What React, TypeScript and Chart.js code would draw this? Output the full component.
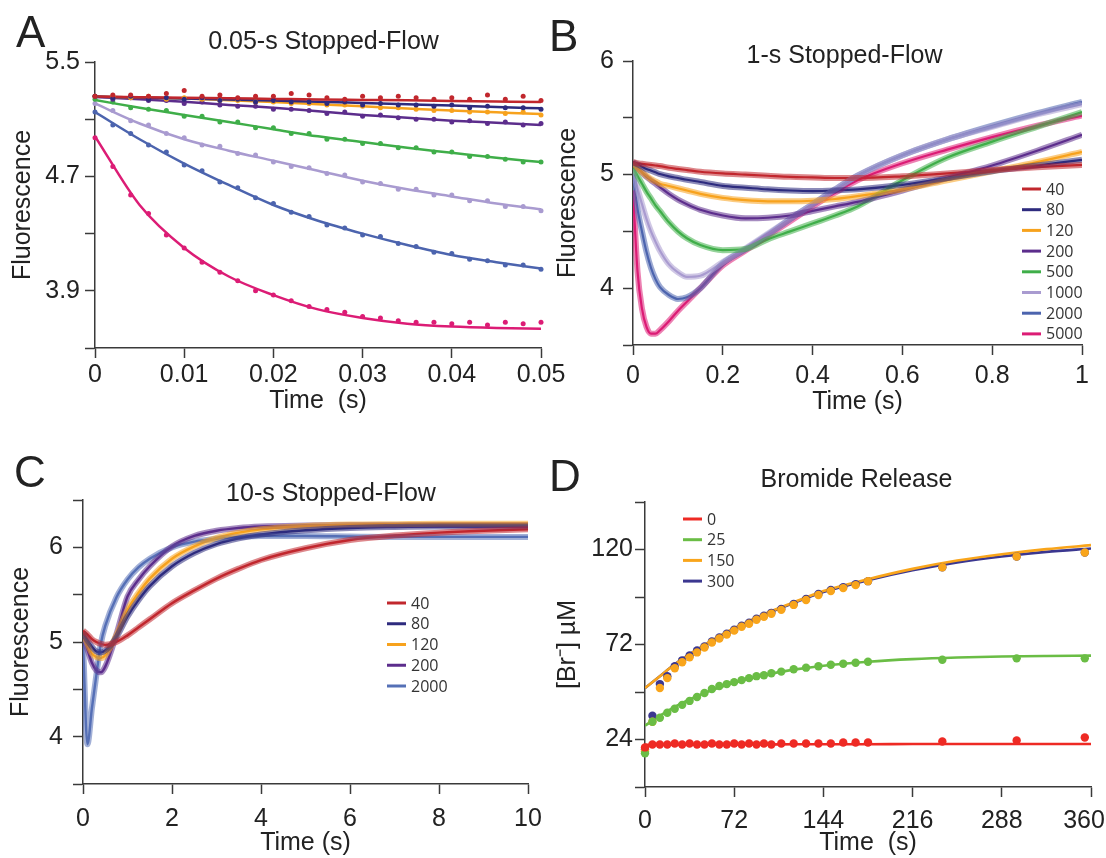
import React, { useEffect, useRef } from "react";
import { Chart, registerables } from "chart.js";

Chart.register(...registerables);

const FONT = "'Liberation Sans', Arial, Helvetica, sans-serif";
const LEGEND_FONT = "'Open Sans', 'Noto Sans', sans-serif";
const INK = "#222222";
const AXIS = "#3a3a3a";

// ---------- series labels & colours ----------
const SERIES_AB = ["40", "80", "120", "200", "500", "1000", "2000", "5000"];
const COLORS_AB = ["#c1272d", "#2e2b7e", "#f7a21d", "#5c2d8c", "#3fae49", "#a99bd0", "#4c64ae", "#dc1c75"];
const SERIES_C = ["40", "80", "120", "200", "2000"];
const COLORS_C = ["#c1272d", "#2e2b7e", "#f7a21d", "#5c2d8c", "#5570b6"];
const SERIES_D = ["0", "25", "150", "300"];
const COLORS_D = ["#ee2a24", "#6abd45", "#f9a51b", "#3b3790"];

// ---------- Panel A: 0.05-s stopped-flow ----------
const A_X_TICKS = [0, 0.01, 0.02, 0.03, 0.04, 0.05];
const A_X_LABELS = ["0", "0.01", "0.02", "0.03", "0.04", "0.05"];
const A_Y_TICKS = [3.5, 3.9, 4.3, 4.7, 5.1, 5.5];
const A_Y_LABELS = ["", "3.9", "", "4.7", "", "5.5"];
const A_FIT_T = [0, 0.005, 0.01, 0.015, 0.02, 0.025, 0.03, 0.035, 0.04, 0.045, 0.05];
const A_FIT_40 = [5.258, 5.254, 5.25, 5.246, 5.242, 5.238, 5.235, 5.232, 5.228, 5.224, 5.22];
const A_FIT_80 = [5.258, 5.251, 5.245, 5.238, 5.23, 5.222, 5.213, 5.204, 5.195, 5.185, 5.176];
const A_FIT_120 = [5.258, 5.252, 5.245, 5.233, 5.22, 5.205, 5.19, 5.175, 5.16, 5.148, 5.136];
const A_FIT_200 = [5.255, 5.24, 5.222, 5.2, 5.18, 5.155, 5.13, 5.11, 5.09, 5.075, 5.06];
const A_FIT_500 = [5.234, 5.18, 5.13, 5.08, 5.03, 4.98, 4.94, 4.9, 4.865, 4.83, 4.8];
const A_FIT_1000 = [5.21, 5.07, 4.96, 4.88, 4.81, 4.74, 4.67, 4.61, 4.56, 4.51, 4.47];
const A_FIT_2000 = [5.15, 4.96, 4.79, 4.64, 4.5, 4.39, 4.3, 4.22, 4.15, 4.1, 4.055];
const A_FIT_5000 = [4.98, 4.5, 4.2, 4.0, 3.87, 3.77, 3.71, 3.67, 3.65, 3.64, 3.635];
const A_DOT_T = [0, 0.002, 0.004, 0.006, 0.008, 0.01, 0.012, 0.014, 0.016, 0.018, 0.02, 0.022, 0.024,
  0.026, 0.028, 0.03, 0.032, 0.034, 0.036, 0.038, 0.04, 0.042, 0.044, 0.046, 0.048, 0.05];
const A_DOT_40 = [5.26, 5.27, 5.27, 5.26, 5.28, 5.3, 5.26, 5.27, 5.25, 5.26, 5.26, 5.28, 5.27, 5.25, 5.24, 5.26, 5.25, 5.26, 5.25, 5.24, 5.25, 5.24, 5.27, 5.24, 5.26, 5.23];
const A_DOT_80 = [5.26, 5.25, 5.26, 5.24, 5.25, 5.24, 5.25, 5.23, 5.24, 5.22, 5.23, 5.22, 5.22, 5.21, 5.22, 5.2, 5.21, 5.2, 5.2, 5.19, 5.2, 5.18, 5.19, 5.18, 5.18, 5.17];
const A_DOT_120 = [5.26, 5.26, 5.25, 5.26, 5.24, 5.25, 5.24, 5.23, 5.23, 5.22, 5.22, 5.21, 5.21, 5.2, 5.2, 5.19, 5.18, 5.18, 5.17, 5.16, 5.16, 5.15, 5.15, 5.14, 5.15, 5.13];
const A_DOT_200 = [5.26, 5.24, 5.25, 5.23, 5.23, 5.21, 5.22, 5.2, 5.19, 5.19, 5.17, 5.17, 5.16, 5.14, 5.15, 5.12, 5.13, 5.11, 5.1, 5.1, 5.08, 5.09, 5.07, 5.08, 5.06, 5.07];
const A_DOT_500 = [5.24, 5.22, 5.18, 5.17, 5.16, 5.12, 5.12, 5.08, 5.08, 5.04, 5.04, 5.0, 5.0, 4.96, 4.96, 4.93, 4.93, 4.9, 4.9, 4.87, 4.87, 4.84, 4.84, 4.82, 4.8, 4.8];
const A_DOT_1000 = [5.21, 5.16, 5.09, 5.06, 5.0, 4.97, 4.92, 4.91, 4.86, 4.85, 4.8, 4.77, 4.76, 4.72, 4.71, 4.66, 4.65, 4.61, 4.61, 4.57, 4.57, 4.53, 4.53, 4.49, 4.49, 4.46];
const A_DOT_2000 = [5.15, 5.06, 5.0, 4.92, 4.87, 4.78, 4.74, 4.66, 4.62, 4.55, 4.51, 4.45, 4.42, 4.36, 4.34, 4.29, 4.28, 4.23, 4.21, 4.17, 4.16, 4.12, 4.11, 4.08, 4.08, 4.05];
const A_DOT_5000 = [4.97, 4.77, 4.57, 4.44, 4.29, 4.2, 4.1, 4.03, 3.97, 3.9, 3.87, 3.83, 3.79, 3.77, 3.75, 3.72, 3.71, 3.69, 3.68, 3.68, 3.67, 3.68, 3.66, 3.68, 3.67, 3.68];

// ---------- Panel B: 1-s stopped-flow ----------
const B_X_TICKS = [0, 0.2, 0.4, 0.6, 0.8, 1];
const B_X_LABELS = ["0", "0.2", "0.4", "0.6", "0.8", "1"];
const B_Y_TICKS = [3.5, 4, 4.5, 5, 5.5, 6];
const B_Y_LABELS = ["", "4", "", "5", "", "6"];
const B_T = [0, 0.01, 0.02, 0.03, 0.04, 0.05, 0.06, 0.08, 0.1, 0.12, 0.15, 0.2, 0.25, 0.3, 0.35, 0.4, 0.45, 0.5, 0.6, 0.7, 0.8, 0.9, 1.0];
const B_40 = [5.11, 5.1, 5.095, 5.09, 5.085, 5.08, 5.075, 5.06, 5.05, 5.04, 5.025, 5.01, 5.0, 4.99, 4.98, 4.975, 4.97, 4.97, 4.985, 5.01, 5.04, 5.065, 5.085];
const B_80 = [5.11, 5.09, 5.07, 5.05, 5.035, 5.02, 5.005, 4.985, 4.97, 4.955, 4.935, 4.9, 4.885, 4.87, 4.86, 4.855, 4.86, 4.87, 4.91, 4.97, 5.03, 5.08, 5.13];
const B_120 = [5.1, 5.06, 5.02, 4.99, 4.96, 4.94, 4.92, 4.9, 4.88, 4.86, 4.83, 4.795, 4.775, 4.765, 4.765, 4.77, 4.785, 4.81, 4.87, 4.95, 5.03, 5.11, 5.2];
const B_200 = [5.1, 5.06, 5.02, 4.98, 4.95, 4.92, 4.89, 4.83, 4.78, 4.74, 4.69, 4.64, 4.615, 4.62, 4.64, 4.68, 4.72, 4.76, 4.86, 4.97, 5.08, 5.21, 5.35];
const B_500 = [5.07, 4.99, 4.92, 4.85, 4.79, 4.73, 4.68, 4.58, 4.5, 4.44, 4.38, 4.335, 4.345, 4.43, 4.5, 4.57, 4.64, 4.72, 4.95, 5.15, 5.29, 5.42, 5.55];
const B_1000 = [5.05, 4.88, 4.74, 4.61, 4.5, 4.41, 4.33, 4.21, 4.14, 4.1, 4.11, 4.23, 4.35, 4.48, 4.61, 4.74, 4.87, 4.99, 5.17, 5.31, 5.42, 5.53, 5.62];
const B_2000 = [5.0, 4.7, 4.5, 4.32, 4.18, 4.08, 4.01, 3.94, 3.905, 3.92, 4.0, 4.22, 4.34, 4.47, 4.61, 4.74, 4.87, 4.99, 5.17, 5.31, 5.43, 5.54, 5.64];
const B_5000 = [4.86, 4.15, 3.82, 3.66, 3.6, 3.6, 3.63, 3.71, 3.8, 3.88, 4.0, 4.2, 4.33, 4.46, 4.59, 4.72, 4.84, 4.95, 5.1, 5.22, 5.33, 5.43, 5.52];

// ---------- Panel C: 10-s stopped-flow ----------
const C_X_TICKS = [0, 2, 4, 6, 8, 10];
const C_X_LABELS = ["0", "2", "4", "6", "8", "10"];
const C_Y_TICKS = [3.5, 4, 4.5, 5, 5.5, 6, 6.5];
const C_Y_LABELS = ["", "4", "", "5", "", "6", ""];
const C_T = [0, 0.1, 0.2, 0.3, 0.4, 0.5, 0.75, 1, 1.25, 1.5, 2, 2.5, 3, 3.5, 4, 5, 6, 7, 8, 9, 10];
const C_40 = [5.12, 5.08, 5.03, 5.0, 4.98, 4.97, 5.0, 5.07, 5.155, 5.24, 5.41, 5.545, 5.67, 5.775, 5.866, 5.99, 6.077, 6.125, 6.155, 6.175, 6.19];
const C_80 = [5.1, 5.02, 4.95, 4.9, 4.89, 4.91, 5.05, 5.27, 5.445, 5.59, 5.8, 5.94, 6.035, 6.095, 6.135, 6.18, 6.205, 6.215, 6.22, 6.22, 6.22];
const C_120 = [5.1, 4.98, 4.88, 4.84, 4.83, 4.86, 5.07, 5.34, 5.52, 5.67, 5.88, 6.01, 6.1, 6.155, 6.19, 6.225, 6.24, 6.245, 6.25, 6.25, 6.25];
const C_200 = [5.08, 4.92, 4.78, 4.7, 4.68, 4.74, 5.08, 5.48, 5.66, 5.8, 6.01, 6.12, 6.175, 6.205, 6.22, 6.23, 6.235, 6.235, 6.235, 6.235, 6.235];
const C_2000 = [5.0, 3.92, 4.3, 4.65, 4.98, 5.17, 5.47, 5.66, 5.79, 5.88, 6.0, 6.06, 6.09, 6.11, 6.12, 6.12, 6.115, 6.11, 6.11, 6.11, 6.11];

// ---------- Panel D: bromide release ----------
const D_X_TICKS = [0, 72, 144, 216, 288, 360];
const D_X_LABELS = ["0", "72", "144", "216", "288", "360  "];
const D_Y_TICKS = [0, 24, 48, 72, 96, 120, 144];
const D_Y_LABELS = ["", "24", "", "72", "", "120", ""];
const D_FIT_T = [0, 12, 24, 36, 48, 60, 72, 96, 120, 144, 180, 216, 252, 288, 324, 360];
const D_FIT_0 = [21.3, 21.3, 21.4, 21.4, 21.4, 21.5, 21.5, 21.5, 21.6, 21.6, 21.6, 21.7, 21.7, 21.7, 21.7, 21.7];
const D_FIT_25 = [31, 36, 40.5, 44.2, 47.5, 50.3, 52.7, 56.5, 59.3, 61.3, 63.3, 64.6, 65.4, 65.9, 66.2, 66.4];
const D_FIT_150 = [50, 56, 62, 67, 71.8, 76.2, 80.2, 87.3, 93.3, 99, 105, 110.2, 114.4, 117.6, 120.2, 122.2];
const D_FIT_300 = [50, 56, 62, 67, 71.5, 76, 80, 87, 93, 98.5, 104.5, 109.5, 113.5, 116.5, 118.8, 120.5];
const D_DOT_T = [0, 6, 12, 18, 24, 30, 36, 42, 48, 54, 60, 66, 72, 78, 84, 90, 96, 102, 110, 120, 130, 140, 150, 160, 170, 180, 240, 300, 355];
const D_DOT_0 = [20, 21.5, 21.5, 21.5, 22, 21.5, 22, 21.5, 21.5, 22, 21.5, 21.5, 22, 21.5, 22, 21.5, 22, 21.5, 22, 22, 22, 22, 22, 22.5, 22.5, 22.5, 23, 23.5, 25];
const D_DOT_25 = [17, 33, 35, 37.5, 39.5, 41.5, 43.5, 45.5, 47.5, 49.5, 51, 52, 53, 54, 55, 56, 56.5, 57.5, 58.3, 59.5, 60.3, 61, 61.8, 62.3, 62.8, 63.3, 64.3, 65, 65];
const D_DOT_150 = [18, 33, 50, 55, 60, 63, 65.5, 68, 70.5, 73, 75, 77, 79, 81, 82.5, 84.5, 86, 87.5, 89.5, 92, 94.5, 97, 99, 100.5, 102, 104, 111, 116.5, 118.5];
const D_DOT_300 = [19, 36, 52, 56, 61, 64, 66.5, 69, 71, 73.5, 75.5, 77.5, 79.5, 81.5, 83, 85, 86.5, 88, 90, 92.5, 95, 97.5, 99.5, 101, 102.5, 104, 111, 116.5, 118.5];

// ---------- helpers ----------
const pts = (xs: number[], ys: number[]) => xs.map((x, i) => ({ x, y: ys[i] }));

function withAlpha(hex: string, a: number) {
  const n = parseInt(hex.slice(1), 16);
  return `rgba(${(n >> 16) & 255},${(n >> 8) & 255},${n & 255},${a})`;
}

function lineSet(xs: number[], ys: number[], color: string, width: number) {
  return {
    data: pts(xs, ys), showLine: true, borderColor: color, backgroundColor: color,
    borderWidth: width, pointRadius: 0, fill: false, cubicInterpolationMode: "monotone",
  };
}

function dotSet(xs: number[], ys: number[], color: string, r: number) {
  return {
    data: pts(xs, ys), showLine: false, pointRadius: r, pointBackgroundColor: color,
    pointBorderWidth: 0, backgroundColor: color, borderColor: color, clip: false,
  };
}

type Geo = {
  left: number; yw: number; top: number; right: number; bottom: number; xh: number;
  yTitlePad: number; xTitlePad: number; yTickPad: number; xTickPad: number;
};

function makeAxis(horizontal: boolean, min: number, max: number, ticks: number[], labels: string[], title: string, g: Geo) {
  return {
    type: "linear", min, max,
    afterBuildTicks: (s: any) => { s.ticks = ticks.map((v) => ({ value: v })); },
    afterFit: (s: any) => {
      if (horizontal) s.height = g.xh; else s.width = g.yw;
      s.paddingLeft = 0; s.paddingRight = 0; s.paddingTop = 0; s.paddingBottom = 0;
    },
    ticks: {
      autoSkip: false, maxRotation: 0, minRotation: 0, color: INK,
      padding: horizontal ? g.xTickPad : g.yTickPad,
      font: { family: FONT, size: 25 },
      callback: (_v: any, i: number) => labels[i],
    },
    grid: { drawOnChartArea: false, drawTicks: true, tickLength: 10, tickWidth: 1.5, tickColor: AXIS },
    border: { display: true, color: AXIS, width: 1.5 },
    title: {
      display: true, text: title, color: INK, font: { family: FONT, size: 25 },
      padding: horizontal ? { top: 0, bottom: g.xTitlePad } : { top: g.yTitlePad, bottom: 0 },
    },
  };
}

function textPlugin(letter: string, lx: number, ly: number, title: string, tx: number, ty: number) {
  return {
    id: "panelText" + letter,
    afterDraw(chart: any) {
      const ctx = chart.ctx;
      ctx.save();
      ctx.fillStyle = INK;
      ctx.textBaseline = "alphabetic";
      ctx.textAlign = "left";
      ctx.font = `44px ${FONT}`;
      ctx.fillText(letter, lx, ly);
      ctx.textAlign = "center";
      ctx.font = `25px ${FONT}`;
      ctx.fillText(title, tx, ty);
      ctx.restore();
    },
  };
}

function legendPlugin(id: string, labels: string[], colors: string[], x: number, y: number, gap: number) {
  return {
    id: "legend" + id,
    afterDraw(chart: any) {
      const ctx = chart.ctx;
      ctx.save();
      ctx.font = `16px ${LEGEND_FONT}`;
      ctx.textBaseline = "middle";
      ctx.textAlign = "left";
      labels.forEach((lab, i) => {
        const yy = y + i * gap;
        ctx.strokeStyle = colors[i];
        ctx.lineWidth = 3;
        ctx.beginPath();
        ctx.moveTo(x, yy);
        ctx.lineTo(x + 19, yy);
        ctx.stroke();
        ctx.fillStyle = "#333333";
        ctx.fillText(lab, x + 24, yy + 1);
      });
      ctx.restore();
    },
  };
}

function baseConfig(datasets: any[], g: Geo, x: any, y: any, plugins: any[]) {
  return {
    type: "scatter",
    data: { datasets },
    options: {
      responsive: false,
      animation: false,
      events: [],
      layout: { padding: { left: g.left, top: g.top, right: g.right, bottom: g.bottom } },
      plugins: { legend: { display: false }, tooltip: { enabled: false }, title: { display: false } },
      scales: { x, y },
    },
    plugins,
  };
}

// ---------- panel builders ----------
function buildA() {
  const g: Geo = { left: 0, yw: 95, top: 62, right: 1106 - 541, bottom: 858 - 430, xh: 82,
    yTitlePad: 8, xTitlePad: 14, yTickPad: 5, xTickPad: 2 };
  const fits = [A_FIT_40, A_FIT_80, A_FIT_120, A_FIT_200, A_FIT_500, A_FIT_1000, A_FIT_2000, A_FIT_5000];
  const dots = [A_DOT_40, A_DOT_80, A_DOT_120, A_DOT_200, A_DOT_500, A_DOT_1000, A_DOT_2000, A_DOT_5000];
  const ds: any[] = [];
  dots.forEach((d, i) => ds.push(dotSet(A_DOT_T, d, COLORS_AB[i], 2.5)));
  fits.forEach((f, i) => ds.push(lineSet(A_FIT_T, f, COLORS_AB[i], 2.5)));
  return baseConfig(ds, g,
    makeAxis(true, 0, 0.05, A_X_TICKS, A_X_LABELS, "Time  (s)", g),
    makeAxis(false, 3.5, 5.5, A_Y_TICKS, A_Y_LABELS, "Fluorescence", g),
    [textPlugin("A", 16, 47, "0.05-s Stopped-Flow", 323.5, 49)]);
}

function buildB() {
  const g: Geo = { left: 553, yw: 80, top: 61, right: 1106 - 1082, bottom: 858 - 430, xh: 85,
    yTitlePad: 0, xTitlePad: 13, yTickPad: 9, xTickPad: 6 };
  const series = [B_40, B_80, B_120, B_200, B_500, B_1000, B_2000, B_5000];
  const ds: any[] = [];
  series.forEach((s, i) => ds.push(lineSet(B_T, s, withAlpha(COLORS_AB[i], 0.55), 6)));
  series.forEach((s, i) => ds.push(lineSet(B_T, s, COLORS_AB[i], 2.2)));
  return baseConfig(ds, g,
    makeAxis(true, 0, 1, B_X_TICKS, B_X_LABELS, "Time (s)", g),
    makeAxis(false, 3.5, 6, B_Y_TICKS, B_Y_LABELS, "Fluorescence", g),
    [textPlugin("B", 549, 51, "1-s Stopped-Flow", 844.5, 63),
     legendPlugin("B", SERIES_AB, COLORS_AB, 1022, 189, 20.7)]);
}

function buildC() {
  const g: Geo = { left: 0, yw: 83, top: 500, right: 1106 - 528, bottom: 0, xh: 858 - 784,
    yTitlePad: 6, xTitlePad: 0, yTickPad: 10, xTickPad: 10 };
  const series = [C_40, C_80, C_120, C_200, C_2000];
  const ds: any[] = [];
  series.forEach((s, i) => ds.push(lineSet(C_T, s, withAlpha(COLORS_C[i], 0.55), 6)));
  series.forEach((s, i) => ds.push(lineSet(C_T, s, COLORS_C[i], 2.4)));
  return baseConfig(ds, g,
    makeAxis(true, 0, 10, C_X_TICKS, C_X_LABELS, "Time (s)", g),
    makeAxis(false, 3.5, 6.5, C_Y_TICKS, C_Y_LABELS, "Fluorescence", g),
    [textPlugin("C", 14, 487, "10-s Stopped-Flow", 331, 501),
     legendPlugin("C", SERIES_C, COLORS_C, 387, 603, 20.75)]);
}

function buildD() {
  const g: Geo = { left: 553, yw: 92, top: 502, right: 1106 - 1091, bottom: 0, xh: 858 - 787,
    yTitlePad: 0, xTitlePad: 0, yTickPad: 2, xTickPad: 9 };
  const fits = [D_FIT_0, D_FIT_25, D_FIT_150, D_FIT_300];
  const dots = [D_DOT_0, D_DOT_25, D_DOT_150, D_DOT_300];
  const ds: any[] = [];
  dots.forEach((d, i) => ds.push(dotSet(D_DOT_T, d, COLORS_D[i], 4.2)));
  fits.forEach((f, i) => ds.push(lineSet(D_FIT_T, f, COLORS_D[i], 2.6)));
  return baseConfig(ds, g,
    makeAxis(true, 0, 360, D_X_TICKS, D_X_LABELS, "Time  (s)", g),
    makeAxis(false, 0, 144, D_Y_TICKS, D_Y_LABELS, "[Br\u207B] \u00B5M", g),
    [textPlugin("D", 549, 491, "Bromide Release", 856.5, 487),
     legendPlugin("D", SERIES_D, COLORS_D, 683, 519, 20.7)]);
}

function Panel({ build }: { build: () => any }) {
  const ref = useRef<HTMLCanvasElement>(null);
  useEffect(() => {
    const chart = new Chart(ref.current as HTMLCanvasElement, build());
    return () => chart.destroy();
  }, [build]);
  return (
    <canvas
      ref={ref}
      width={1106}
      height={858}
      style={{ position: "absolute", left: 0, top: 0, width: 1106, height: 858 }}
    />
  );
}

export default function App() {
  return (
    <div style={{ position: "absolute", left: 0, top: 0, width: 1106, height: 858, background: "#ffffff", overflow: "hidden" }}>
      <Panel build={buildA} />
      <Panel build={buildB} />
      <Panel build={buildC} />
      <Panel build={buildD} />
    </div>
  );
}
